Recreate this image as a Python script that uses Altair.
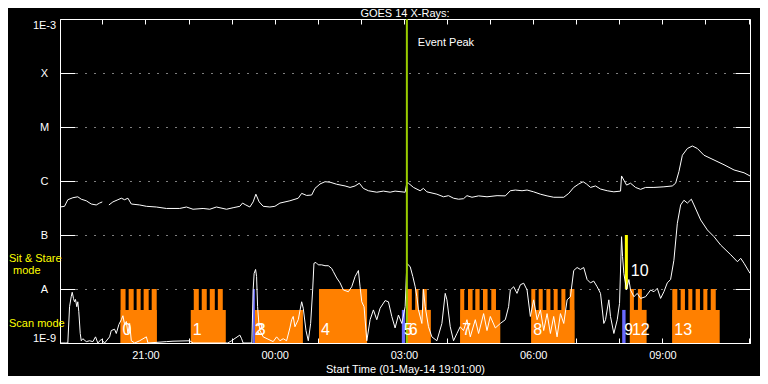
import altair as alt
import pandas as pd

START = pd.Timestamp("2014-05-01 19:01:00")
END_MIN = 961  # minutes after start (11:02)

# ---------------- GOES 14 long channel (1-8 A), minutes after start / W m^-2
long1_min = [0, 6.3, 10.9, 17.9, 24.8, 29.6, 36.6, 43.5, 50.5, 55.1, 58.9]
long1_flux = [3.3e-7, 3.4e-7, 4.5e-7, 4.9e-7, 5.1e-7, 4.6e-7, 4.3e-7, 3.75e-7, 3.6e-7, 3.9e-7, 4.1e-7]

long2_min = [68.1, 73.7, 80.7, 85.4, 90, 94.6, 99.3, 110.9, 120.3, 134.2, 148.2, 166.7, 176.1,
             185.3, 199.3, 208.6, 217.9, 231.9, 241.1, 250.5, 254.2, 258.8, 264.4, 269, 272.8,
             277.4, 283, 292.3, 299.3, 306.3, 320.2, 331.8, 336.6, 343.5, 350.5, 355.1, 362.1,
             369.1, 376.1, 385.4, 397, 404, 411, 416.9, 422.5, 429.5, 441.2, 450.4, 459.8,
             466.7, 480.7, 483.2, 485.3, 492.3, 501.6, 506.2, 511, 524.9, 534.1, 541.1, 548.1,
             555.1, 562, 566.8, 573.8, 583, 594.7, 608.7, 620.2, 627.2, 634.2, 643.5, 650.5,
             659.7, 669.1, 678.4, 687.6, 701.6, 708.6, 715.5, 722.5, 728.6, 733.3, 738.9,
             745.8, 752.8, 762.1, 771.4, 780.7, 782.1, 785.3, 789.1, 794.6, 801.6, 808.6,
             815.6, 827.2, 841.1, 852.8, 857.4, 862, 866.8, 873.8, 880.7, 887.7, 896.9,
             910.9, 924.8, 938.8, 952.7, 961]
long2_flux = [3.6e-7, 4.1e-7, 4.5e-7, 4.8e-7, 4.5e-7, 4.8e-7, 3.75e-7, 3.6e-7, 3.4e-7, 3.3e-7,
              3.1e-7, 3.1e-7, 3.3e-7, 3.0e-7, 3.1e-7, 3.0e-7, 3.3e-7, 3.0e-7, 3.2e-7, 3.4e-7,
              3.9e-7, 3.6e-7, 3.3e-7, 4.1e-7, 5.7e-7, 4.1e-7, 3.4e-7, 3.3e-7, 3.4e-7, 3.9e-7,
              4.3e-7, 4.8e-7, 5.9e-7, 5.4e-7, 5.5e-7, 7.3e-7, 8.8e-7, 9.7e-7, 9.5e-7, 8.7e-7,
              8.1e-7, 7.6e-7, 8.1e-7, 9.1e-7, 7.3e-7, 6.6e-7, 6.2e-7, 6.5e-7, 6.2e-7, 6.5e-7,
              6.2e-7, 9.4e-7, 9.1e-7, 7.6e-7, 6.6e-7, 7.3e-7, 6.3e-7, 5.7e-7, 5.1e-7, 5.35e-7,
              4.8e-7, 4.6e-7, 4.7e-7, 5.35e-7, 5.0e-7, 5.3e-7, 5.1e-7, 5.35e-7, 5.3e-7, 6.6e-7,
              6.8e-7, 6.6e-7, 6.8e-7, 6.3e-7, 5.7e-7, 5.3e-7, 5.0e-7, 5.0e-7, 5.9e-7, 7.6e-7,
              8.8e-7, 9.7e-7, 8.8e-7, 7.6e-7, 8.1e-7, 7.1e-7, 6.6e-7, 6.3e-7, 6.5e-7, 1.24e-6,
              1.04e-6, 8.4e-7, 9.1e-7, 7.6e-7, 7.0e-7, 7.6e-7, 7.6e-7, 7.8e-7, 8.1e-7, 9.1e-7,
              1.49e-6, 3.0e-6, 4.0e-6, 4.45e-6, 4.0e-6, 3.0e-6, 2.45e-6, 2.0e-6, 1.6e-6,
              1.42e-6, 1.24e-6]

# ---------------- GOES 14 short channel (0.5-4 A)
short_min = [0, 7.7, 10.9, 13.3, 15.6, 17.0, 18.8, 20.2, 21.6, 23.4, 24.8, 26.2, 28.2, 29.6, 31.8,
             36.6, 41.2, 45.8, 49.5, 52.7, 57.5, 62.1, 69.1, 71.4, 76.0, 78.4, 82.0, 85.4, 87.6,
             90.0, 92.4, 94.6, 97.0, 99.3, 104, 110.9, 120.3, 122.5, 148.2, 157.4, 180.7, 185.3,
             233.7, 238.9, 250.5, 252.9, 255.1, 267.2, 269.0, 270.4, 272.4, 273.8, 275.2, 277.0,
             278.4, 283.0, 296.9, 301.7, 306.3, 310.9, 315.6, 320.2, 322.6, 324.8, 327.2, 331.8,
             336.6, 338.8, 342.6, 345.8, 349.1, 351.9, 353.7, 356.5, 359.7, 364.5, 369.1, 373.7,
             378.4, 380.7, 385.4, 390, 394.6, 401.6, 406.3, 411, 415.6, 417.9, 420.3, 423.5,
             427.3, 431.9, 436.5, 441.2, 445.8, 452.8, 457.4, 462.1, 466.7, 471.4, 476.1, 480.7,
             483.1, 484.9, 487.7, 491.4, 494.7, 497, 499.3, 504, 506.2, 508.6, 513.2, 517.9,
             524.9, 531.9, 536.5, 538.9, 543.5, 548.1, 552.8, 557.4, 562, 566.8, 571.4, 578.4,
             583, 590, 594.7, 599.3, 606.3, 613.3, 620.2, 624.8, 627.2, 631.9, 636.5, 641.2,
             645.8, 650.5, 655.1, 659.7, 664.5, 669.1, 673.7, 678.4, 683, 687.6, 692.3, 697,
             701.6, 706.3, 710.9, 715.5, 720.2, 724.8, 729.4, 734.1, 738.7, 743.4, 748.1, 752.8,
             757.4, 759.8, 764.4, 766.7, 771.4, 776.1, 779.3, 782.1, 783.5, 785.3, 789.1, 792.3,
             794.6, 799.3, 804, 808.6, 815.6, 822.6, 827.2, 831.9, 836.5, 841.1, 845.8, 850.4,
             855, 859.8, 864.4, 869.0, 873.8, 879.3, 883, 892.3, 901.6, 910.9, 920.2, 934.2,
             943.5, 948.1, 952.7, 961]
short_flux = [1.0e-9, 1.0e-9, 1.0e-9, 4.7e-9, 7.2e-9, 8.7e-9, 6.7e-9, 5.8e-9, 6.4e-9, 4.7e-9,
              5.8e-9, 3.8e-9, 1.5e-9, 1.1e-9, 1.2e-9, 1.06e-9, 1.1e-9, 1.06e-9, 1.3e-9, 1.0e-9,
              1.17e-9, 1.0e-9, 1.3e-9, 1.7e-9, 1.8e-9, 1.5e-9, 2.2e-9, 2.7e-9, 3.2e-9, 2.2e-9,
              2.5e-9, 1.5e-9, 2.3e-9, 1.1e-9, 1.0e-9, 1.1e-9, 1.3e-9, 1.0e-9, 1.06e-9, 1.08e-9,
              1.1e-9, 1.0e-9, 1.0e-9, 1.1e-9, 1.4e-9, 1.2e-9, 1.0e-9, 1.0e-9, 9.6e-9, 1.95e-8,
              2.3e-8, 1.7e-8, 4.7e-9, 2.3e-9, 1.7e-9, 1.3e-9, 1.06e-9, 1.3e-9, 1.1e-9, 1.2e-9,
              1.1e-9, 1.9e-9, 2.7e-9, 3.1e-9, 2.0e-9, 2.7e-9, 5.8e-9, 4.4e-9, 1.7e-9, 1.1e-9,
              2.3e-9, 9.6e-9, 3.0e-8, 3.1e-8, 2.8e-8, 2.8e-8, 2.7e-8, 2.7e-8, 2.4e-8, 2.1e-8,
              1.6e-8, 1.3e-8, 9.6e-9, 8.9e-9, 1.1e-8, 1.7e-8, 2.2e-8, 1.1e-8, 5.8e-9, 4.7e-9,
              1.1e-9, 2.7e-9, 4.1e-9, 2.7e-9, 4.4e-9, 6.1e-9, 5.8e-9, 3.1e-9, 1.9e-9, 3.3e-9,
              2.3e-9, 4.7e-9, 3.0e-8, 2.8e-8, 2.6e-8, 1.7e-8, 1.1e-8, 7.2e-9, 4.1e-9, 2.3e-9,
              9.9e-9, 4.7e-9, 2.0e-9, 1.3e-9, 1.1e-9, 2.3e-9, 8.3e-9, 6.3e-9, 2.0e-9, 1.1e-9,
              1.5e-9, 2.0e-9, 1.7e-9, 2.7e-9, 1.3e-9, 2.7e-9, 1.5e-9, 3.5e-9, 1.7e-9, 3.1e-9,
              1.9e-9, 2.3e-9, 2.7e-9, 4.7e-9, 9.6e-9, 1.1e-8, 8.3e-9, 1.2e-8, 1.28e-8, 9.6e-9,
              3.1e-9, 6.3e-9, 2.7e-9, 4.1e-9, 1.7e-9, 3.5e-9, 1.5e-9, 3.1e-9, 1.3e-9, 3.5e-9,
              2.3e-9, 6.3e-9, 7.2e-9, 2.2e-8, 2.5e-8, 2.3e-8, 2.5e-8, 1.5e-8, 1.3e-8, 1.4e-8,
              1.1e-8, 8.3e-9, 2.3e-9, 2.7e-9, 6.3e-9, 3.1e-9, 1.5e-9, 2.7e-9, 5.4e-9, 9.3e-8,
              4.0e-8, 1.95e-8, 9.6e-9, 1.5e-8, 9.6e-9, 7.2e-9, 8.3e-9, 6.7e-9, 7.2e-9, 9.6e-9,
              8.9e-9, 1.03e-8, 6.7e-9, 8.9e-9, 1.3e-8, 1.5e-8, 3.4e-8, 1.65e-7, 3.6e-7, 4.4e-7,
              3.9e-7, 4.6e-7, 3.6e-7, 1.9e-7, 1.24e-7, 9.3e-8, 6.5e-8, 4.3e-8, 3.2e-8, 3.7e-8,
              3.0e-8, 1.95e-8]

# ---------------- IRIS observations (minutes after start)
# scan-mode base blocks: start, end, top level
obs_start = [84.4, 182.1, 271.4, 360.7, 483.1, 557.4, 656.4, 793.7, 852.8]
obs_end = [134.7, 230.9, 338.3, 427.7, 516.5, 613.2, 716.5, 817.0, 918.8]
obs_top = [4.1e-9, 4.1e-9, 4.1e-9, 1e-8, 4.1e-9, 4.1e-9, 4.1e-9, 4.1e-9, 4.1e-9]
# raster steps reaching the A level
step_start = [84.4, 95.6, 106.7, 116.5, 127.7,
              186.3, 197.4, 208.6, 219.8,
              483.1, 494.7, 504.8,
              557.4, 568.2, 578.4, 589.1, 600.7,
              656.4, 666.7, 677.4, 687.6, 698.3, 709.9,
              793.7, 804.9,
              852.8, 864.4, 875.1, 885.3, 896.0, 906.3]
step_end = [91.3, 102.6, 112.3, 123.5, 134.7,
            193.3, 204.4, 215.6, 226.7,
            490.0, 499.3, 510.9,
            563.0, 574.6, 584.4, 595.5, 607.2,
            662.0, 672.3, 683.0, 693.1, 703.9, 716.5,
            799.3, 810.4,
            859.8, 870.4, 880.7, 891.3, 901.6, 913.3]
# short blue observations
blue_start = [268.6, 476.1, 783.0]
blue_end = [271.4, 480.7, 787.7]
blue_top = [1e-8, 4.1e-9, 4.1e-9]
# sit & stare observation
sit_start = [786.7]
sit_end = [790.9]
sit_bottom = [1e-8]
sit_top = [1e-7]

obs_labels = ["0", "1", "2", "3", "4", "5", "6", "7", "8", "9", "12", "13"]
obs_label_min = [84.4, 182.1, 268.6, 271.4, 360.7, 476.1, 483.1, 557.4, 656.4, 783.0, 793.7, 852.8]
sit_labels = ["10"]
sit_label_min = [786.7]

event_peak_min = [483.1]

y_levels = [1e-9, 1e-8, 1e-7, 1e-6, 1e-5, 1e-4, 1e-3]
y_labels = ["1E-9", "A", "B", "C", "M", "X", "1E-3"]

chart_title = ["GOES 14 X-Rays:"]
notes = ["Sit & Stare", "mode", "Scan mode"]


def tm(mins):
    return [START + pd.Timedelta(minutes=float(m)) for m in mins]


long_df = pd.DataFrame({
    "t": tm(long1_min) + tm(long2_min),
    "flux": long1_flux + long2_flux,
    "seg": [1] * len(long1_min) + [2] * len(long2_min),
})
short_df = pd.DataFrame({"t": tm(short_min), "flux": short_flux})
base_df = pd.DataFrame({"t": tm(obs_start), "t2": tm(obs_end), "y0": 1e-9, "top": obs_top})
step_df = pd.DataFrame({"t": tm(step_start), "t2": tm(step_end), "y0": 1e-9, "top": 1e-8})
blue_df = pd.DataFrame({"t": tm(blue_start), "t2": tm(blue_end), "y0": 1e-9, "top": blue_top})
sit_df = pd.DataFrame({"t": tm(sit_start), "t2": tm(sit_end), "y0": sit_bottom, "top": sit_top})
lab_df = pd.DataFrame({"t": tm(obs_label_min), "label": obs_labels})
sitlab_df = pd.DataFrame({"t": tm(sit_label_min), "label": sit_labels})
peak_df = pd.DataFrame({"t": tm(event_peak_min), "label": ["Event Peak"]})
title_df = pd.DataFrame({"label": chart_title})
note_df = pd.DataFrame({"label": notes})

FONT = "Liberation Sans"
WHITE = "#ffffff"
W, H = 690, 324

t_end = START + pd.Timedelta(minutes=END_MIN)
hour_ticks = pd.date_range("2014-05-01 20:00", "2014-05-02 11:00", freq="h")


def dt(ts):
    return alt.DateTime(year=ts.year, month=ts.month, date=ts.day, hours=ts.hour, minutes=ts.minute)


x_scale = alt.Scale(domain=[dt(START), dt(t_end)], nice=False)
y_scale = alt.Scale(type="log", domain=[y_levels[0], y_levels[-1]], nice=False)

# grid dashes: inward tick stubs at both ends, dotted line between
y_grid_dash = [15, 1] + [1, 8] * 73 + [1, 1, 15, 0]
x_grid_dash = [5, H - 10, 5, 0]

label_expr = " : ".join(
    f"datum.value >= {lv * 0.9} ? '{lb}'" for lv, lb in zip(reversed(y_levels), reversed(y_labels))
) + " : ''"

x_axis = alt.Axis(
    values=[dt(h) for h in hour_ticks],
    labelExpr="hours(datum.value) % 3 == 0 ? timeFormat(datum.value, '%H:%M') : ''",
    title="Start Time (01-May-14 19:01:00)",
    grid=True, gridDash=x_grid_dash, gridColor=WHITE, gridOpacity=1, gridWidth=1,
    tickSize=0, labelPadding=6, labelColor=WHITE, labelFont=FONT, labelFontSize=11,
    domainColor=WHITE, titleColor=WHITE, titleFont=FONT, titleFontSize=11,
    titleFontWeight="normal", titlePadding=3, labelFlush=False, labelOverlap=False,
)
y_axis = alt.Axis(
    values=y_levels, labelExpr=label_expr, title=None,
    grid=True, gridDash=y_grid_dash, gridColor=WHITE, gridOpacity=1, gridWidth=1,
    tickSize=0, labelPadding=16, labelAlign="center", labelFlush=True,
    labelColor=WHITE, labelFont=FONT, labelFontSize=11, domainColor=WHITE,
)


def X(field="t"):
    return alt.X(f"{field}:T", scale=x_scale, axis=x_axis)


def Y(field):
    return alt.Y(f"{field}:Q", scale=y_scale, axis=y_axis)


ORANGE = "#ff8000"
BLUE = "#6a6aff"
YELLOW = "#ffff00"
GREEN = "#99cc00"

base = alt.Chart(base_df).mark_rect(color=ORANGE, clip=True).encode(
    x=X(), x2="t2:T", y=Y("y0"), y2="top:Q")
steps = alt.Chart(step_df).mark_rect(color=ORANGE, clip=True).encode(
    x=X(), x2="t2:T", y=Y("y0"), y2="top:Q")
blue = alt.Chart(blue_df).mark_rect(color=BLUE, clip=True).encode(
    x=X(), x2="t2:T", y=Y("y0"), y2="top:Q")
sit = alt.Chart(sit_df).mark_rect(color=YELLOW, clip=True).encode(
    x=X(), x2="t2:T", y=Y("y0"), y2="top:Q")

long_line = alt.Chart(long_df).mark_line(color=WHITE, strokeWidth=1, clip=True,
                                         interpolate="linear").encode(
    x=X(), y=Y("flux"), detail="seg:N")
short_line = alt.Chart(short_df).mark_line(color=WHITE, strokeWidth=1, clip=True).encode(
    x=X(), y=Y("flux"))

labels = alt.Chart(lab_df).mark_text(color=WHITE, font=FONT, fontSize=16, align="left",
                                     baseline="bottom", dx=2).encode(
    x=X(), y=alt.value(319), text="label:N")
sit_text = alt.Chart(sitlab_df).mark_text(color=WHITE, font=FONT, fontSize=16, align="left",
                                          baseline="middle", dx=6).encode(
    x=X(), y=alt.value(252), text="label:N")

peak_rule = alt.Chart(peak_df).mark_rule(color=GREEN, strokeWidth=2).encode(x=X())
peak_text = alt.Chart(peak_df).mark_text(color=WHITE, font=FONT, fontSize=11, align="left",
                                         baseline="middle", dx=11).encode(
    x=X(), y=alt.value(24), text="label:N")

title_text = alt.Chart(title_df).mark_text(
    color=WHITE, font=FONT, fontSize=11, align="center", baseline="alphabetic").encode(
    x=alt.value(W / 2), y=alt.value(-2), text="label:N")


def note(label, x, y):
    return alt.Chart(note_df).transform_filter(alt.datum.label == label).mark_text(
        color=YELLOW, font=FONT, fontSize=11, align="left", baseline="middle").encode(
        x=alt.value(x), y=alt.value(y), text="label:N")


chart = alt.layer(
    base, steps, blue, sit, long_line, short_line, peak_rule, labels, sit_text, peak_text,
    title_text,
    note(notes[0], -51, 240), note(notes[1], -47, 252), note(notes[2], -51, 305),
).properties(
    width=W, height=H,
    autosize=alt.AutoSizeParams(type="none"),
    padding={"left": 52, "top": 11, "right": 10, "bottom": 33},
).configure(
    background="black",
).configure_view(
    stroke=WHITE, strokeWidth=1,
)

chart.save("out.html", embed_options={"renderer": "svg", "actions": False})
